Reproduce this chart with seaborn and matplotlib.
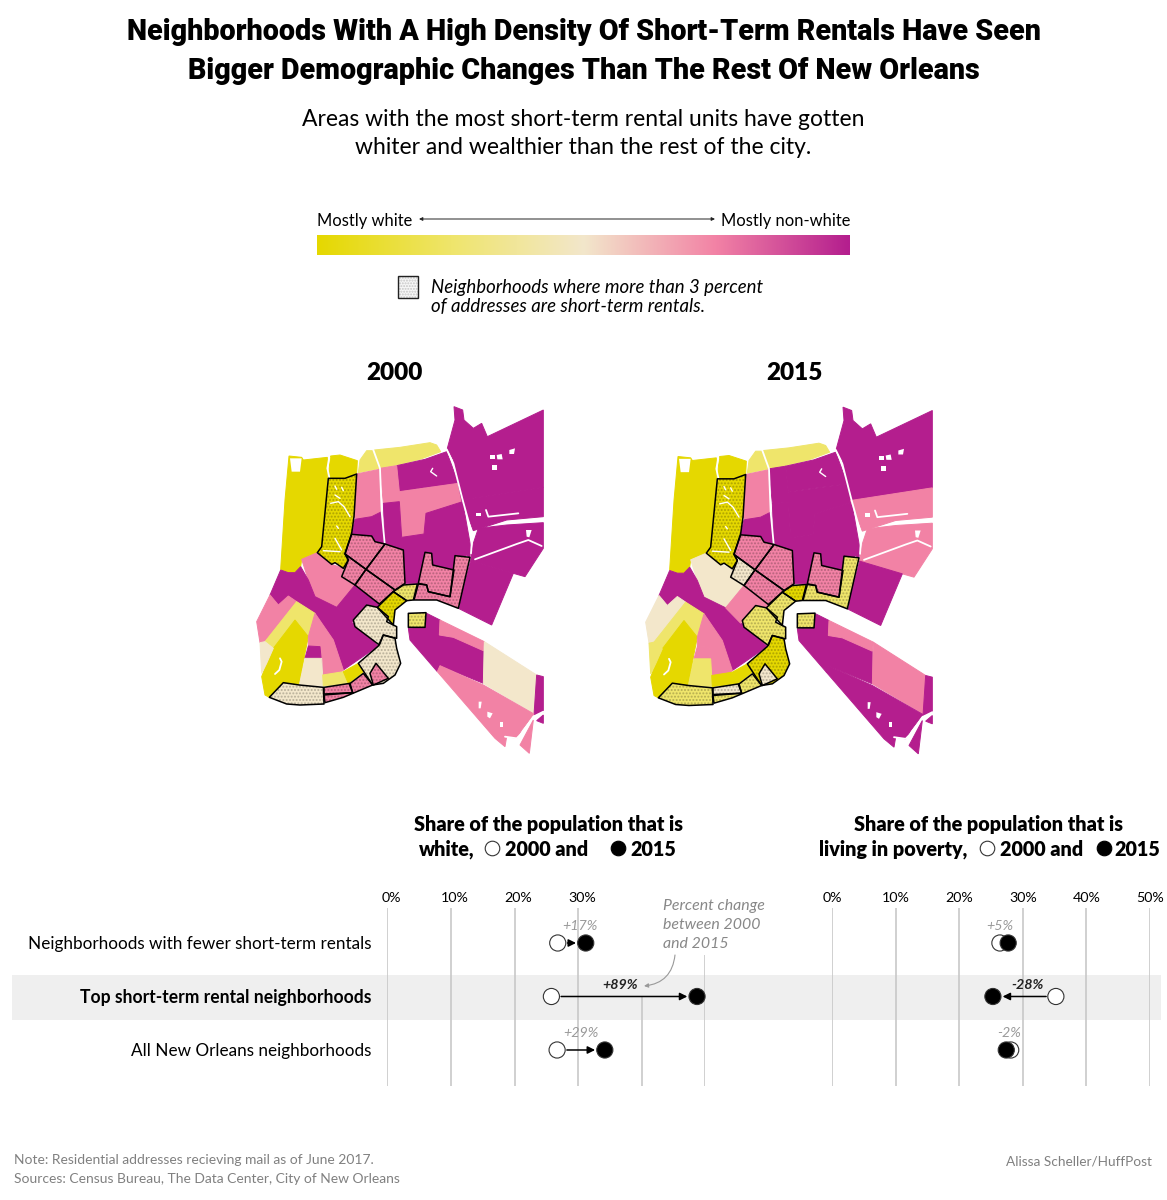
import matplotlib
matplotlib.use('Agg')
import matplotlib.pyplot as plt
from matplotlib.colors import LinearSegmentedColormap
from matplotlib.patches import Polygon, Rectangle
from matplotlib.transforms import ScaledTranslation
import numpy as np
import pandas as pd
import seaborn as sns

# colours of the map classes
Y, L, C, P, M = '#E5D800', '#EFE56B', '#F3E7CB', '#F282A5', '#B41E8E'

# dumbbell values, percent
rows = ['Neighborhoods with fewer short-term rentals',
        'Top short-term rental neighborhoods',
        'All New Orleans neighborhoods']
white_2000 = [26.8, 25.8, 26.7]
white_2015 = [31.2, 48.7, 34.2]
white_change = ['+17%', '+89%', '+29%']
poverty_2000 = [26.4, 35.2, 28.1]
poverty_2015 = [27.7, 25.3, 27.4]
poverty_change = ['+5%', '-28%', '-2%']

# neighbourhood outlines
lakeview_w = [(147,168),(185,172),(190,180),(262,172),(262,235),(245,440),(230,458),(185,478),(182,500),(165,518),(145,518),(122,508),(135,300)]
lakeview_n = [(272,168),(300,165),(352,182),(350,222),(315,235),(265,235),(268,200)]
lakewood = [(265,235),(315,235),(350,222),(342,350),(335,400),(315,460),(325,480),(310,505),(285,488),(275,493),(232,458),(245,440)]
shore_a = [(355,218),(360,180),(380,152),(398,152),(420,205)]
shore_b = [(403,150),(480,142),(570,128),(590,135),(602,155),(540,178),(470,195),(420,205)]
fairgrounds = [(350,222),(418,208),(425,335),(395,350),(350,358),(342,350)]
gent_n = [(470,197),(555,178),(620,155),(655,250),(540,265),(478,275)]
gent_l = [(420,205),(470,197),(478,275),(655,250),(668,305),(558,340),(552,402),(485,412),(478,305),(430,310)]
gent_s = [(430,310),(478,305),(485,412),(552,402),(558,340),(668,305),(692,440),(690,470),(645,467),(642,510),(578,495),(575,460),(555,457),(535,550),(495,550),(490,450),(435,432)]
seventh = [(345,358),(395,350),(425,335),(435,432),(405,425),(398,410),(335,402)]
east_n = [(642,20),(668,30),(672,60),(700,85),(725,70),(742,110),(910,30),(910,262),(665,300),(640,180),(622,145),(645,60)]
east_m = [(665,300),(910,262),(910,350),(800,360),(700,392),(680,340)]
east_s = [(715,385),(800,375),(910,368),(910,445),(855,530),(820,520),(692,482),(700,430)]
lower9 = [(692,482),(820,520),(755,675),(655,625)]
block_a = [(335,403),(395,408),(405,425),(435,432),(378,508),(315,462)]
block_b = [(435,432),(490,450),(495,550),(465,570),(378,508)]
block_c = [(315,462),(378,508),(345,555),(305,530),(325,480)]
block_d = [(378,508),(465,570),(418,612),(345,555)]
marigny = [(555,457),(575,460),(578,495),(642,510),(630,590),(565,575),(560,555),(535,550)]
bywater = [(645,467),(690,472),(655,625),(590,600),(522,600),(535,552),(560,555),(565,575),(630,590)]
quarter = [(460,575),(490,555),(532,552),(520,600),(500,602)]
cbd = [(460,575),(500,602),(465,630),(460,675),(412,622)]
alg_point = [(505,640),(558,638),(555,682),(505,682)]
algiers = [(560,640),(600,660),(598,705),(640,712),(730,752),(730,850),(600,797),(592,815),(510,720),(505,685),(555,682)]
alg_strip = [(600,660),(733,725),(730,752),(640,712),(598,705)]
alg_cream = [(733,725),(890,825),(882,940),(730,850)]
alg_edge = [(890,825),(910,830),(910,935),(882,945)]
alg_south = [(600,797),(730,855),(882,942),(845,990),(830,1015),(800,1010),(795,1040),(765,1015),(592,815)]
alg_tail = [(880,960),(868,1060),(840,1035)]
alg_tip = [(910,945),(910,970),(890,962)]
broadmoor = [(185,478),(232,458),(275,493),(310,505),(305,530),(345,555),(290,622),(225,590),(205,540)]
central = [(122,510),(145,518),(165,518),(182,500),(205,540),(225,590),(290,622),(335,668),(340,670),(415,738),(310,810),(280,720),(225,640),(170,605),(145,588),(115,615),(90,585)]
central_e = [(345,555),(418,612),(412,622),(380,612),(335,668),(290,622)]
west_a = [(50,665),(90,585),(115,615),(145,588),(170,605),(75,725),(60,728)]
west_b = [(170,605),(225,640),(205,710),(165,660),(100,745),(75,725)]
carrollton = [(165,660),(205,710),(195,760),(178,855),(130,848),(88,892),(75,885),(65,830),(80,790),(100,745)]
west_c = [(60,728),(75,725),(100,745),(80,790),(65,820)]
freret = [(225,640),(280,720),(310,810),(300,820),(248,825),(240,740),(205,738),(205,710)]
freret_s = [(205,738),(240,740),(248,825),(240,775),(195,775)]
fontain = [(195,775),(245,775),(250,858),(178,855)]
strip_a = [(248,825),(310,815),(325,850),(250,858)]
strip_b = [(310,815),(355,790),(370,815),(325,850)]
river_w = [(130,848),(178,855),(250,862),(252,912),(180,915),(140,912),(88,892)]
river_a = [(252,862),(330,850),(338,878),(252,882)]
river_b = [(252,885),(338,878),(328,852),(370,820),(398,855),(310,892),(255,908)]
garden = [(380,615),(412,622),(445,650),(440,665),(470,680),(470,715),(430,705),(418,735),(345,680),(340,660)]
channel = [(430,705),(465,715),(470,745),(482,790),(465,825),(430,850),(398,855),(355,790),(415,738)]
touro = [(390,820),(408,790),(445,835),(400,855)]

regions = [lakeview_w, lakeview_n, shore_a, shore_b, fairgrounds, gent_n, gent_l, gent_s, seventh,
           east_n, east_m, east_s, lower9, algiers, alg_strip, alg_cream, alg_edge, alg_south,
           alg_tail, alg_tip, broadmoor, central, central_e, west_a, west_b, carrollton, west_c,
           freret, freret_s, fontain, strip_a, strip_b]
colors_2000 = [Y, Y, L, L, P, M, P, M, M,
               M, M, M, M, M, P, C, M, P,
               P, M, P, M, M, P, L, Y, C,
               P, M, C, L, Y]
colors_2015 = [Y, Y, L, L, P, M, M, M, M,
               M, P, P, M, M, P, P, M, M,
               M, M, C, M, P, C, L, Y, L,
               P, P, L, Y, Y]

# the outlined, stippled neighbourhoods
hot_regions = [lakewood, block_a, block_b, block_c, block_d, marigny, bywater, quarter, cbd,
               alg_point, river_w, river_a, river_b, garden, channel, touro]
hot_2000 = [Y, P, P, P, P, P, P, L, Y, L, C, P, P, C, C, P]
hot_2015 = [Y, P, P, C, P, P, L, Y, L, L, L, C, L, L, Y, C]

# canals and small water bodies
canals = [[(400,150),(420,205),(425,335),(434,430)],
          [(620,148),(640,190),(668,300),(697,405),(693,460)],
          [(268,172),(262,205),(268,232)],
          [(705,478),(830,432),(865,420),(905,438)],
          [(738,330),(745,350),(835,340)],
          [(795,1010),(830,1015),(845,1000),(880,950),(910,935)],
          [(120,775),(125,785),(118,810),(105,822)],
          [(680,470),(655,620)]]
lakewood_paths = [[(272,310),(295,305),(312,320),(330,350)],
                  [(285,415),(305,450)],
                  [(285,258),(290,268)],
                  [(305,262),(310,272)],
                  [(285,285),(300,295)],
                  [(250,452),(300,455)],
                  [(290,378),(295,385)],
                  [(578,205),(572,215),(590,228)]]
ponds = [[(750,165),(765,165),(765,178),(750,178)],
         [(770,165),(785,162),(788,178),(772,178)],
         [(755,195),(772,195),(772,210),(755,210)],
         [(808,150),(825,145),(822,162),(808,162)],
         [(708,338),(722,338),(722,348),(708,348)],
         [(150,175),(185,175),(180,215),(155,215)],
         [(858,390),(875,390),(868,412),(860,410)],
         [(716,905),(725,905),(722,925),(716,925)],
         [(742,935),(758,940),(750,955),(742,950)],
         [(780,965),(790,965),(790,980),(780,980)]]


def draw_map(ax, colors, hot_colors):
    for pts, col in zip(regions, colors):
        ax.add_patch(Polygon(pts, closed=True, facecolor=col, edgecolor=col, lw=0.7))
    for pts in ponds:
        ax.add_patch(Polygon(pts, closed=True, facecolor='white', edgecolor='none', zorder=2))
    for line in canals:
        xs, ys = zip(*line)
        ax.plot(xs, ys, color='white', lw=1.3, solid_capstyle='round', zorder=2)
    for pts, col in zip(hot_regions, hot_colors):
        ax.add_patch(Polygon(pts, closed=True, facecolor=col, edgecolor='#00000038', lw=0, hatch='.....', zorder=3))
    for line in lakewood_paths:
        xs, ys = zip(*line)
        ax.plot(xs, ys, color='white', lw=1.0, zorder=4)
    for pts in hot_regions:
        ax.add_patch(Polygon(pts, closed=True, facecolor='none', edgecolor='black', lw=1.1, joinstyle='round', zorder=5))
    ax.set_xlim(0, 960)
    ax.set_ylim(1080, 0)
    ax.axis('off')


def draw_dots(ax, first, second, changes, label_x, grid_top):
    df = pd.DataFrame({'share': first + second,
                       'row': [0, 1, 2] * 2,
                       'year': ['2000'] * 3 + ['2015'] * 3})
    for v, top in zip(range(0, 60, 10), grid_top):
        ax.vlines(v, top, 2.673, color='#c4c4c4', lw=1.1, zorder=1)
    sns.scatterplot(data=df, x='share', y='row', hue='year', palette={'2000': 'white', '2015': 'black'},
                    s=135, edgecolor='#333333', linewidth=0.8, legend=False, ax=ax, zorder=3, clip_on=False)
    for i in range(3):
        if abs(first[i] - second[i]) > 2:
            ax.annotate('', xy=(second[i], i), xytext=(first[i], i),
                        arrowprops=dict(arrowstyle='-|>', color='black', lw=1.1, shrinkA=7, shrinkB=7, mutation_scale=11),
                        zorder=2)
        ax.text(label_x[i], i - (0.31 if i != 1 else 0.22), changes[i], ha='center', va='center', fontsize=10.3, style='italic',
                fontweight='bold' if i == 1 else 'normal', color='#222222' if i == 1 else '#999999')
    ax.set_xlim(0, 50)
    ax.set_ylim(2.673, -0.654)
    ax.set_xlabel('')
    ax.set_ylabel('')
    ax.xaxis.tick_top()
    ax.set_xticks(range(0, 60, 10))
    ax.tick_params(axis='both', length=0, labelsize=10.3)
    ax.tick_params(axis='x', pad=3, colors='black')
    for s in ax.spines.values():
        s.set_visible(False)
    ax.patch.set_visible(False)


sns.set_theme(style='white')
plt.rcParams['font.family'] = ['Lato', 'DejaVu Sans']
plt.rcParams['text.color'] = 'black'

W, H = 1167, 1200
fig = plt.figure(figsize=(W / 100, H / 100), dpi=100, facecolor='white')


def px_axes(x0, y0, w, h, **kw):
    return fig.add_axes([x0 / W, 1 - (y0 + h) / H, w / W, h / H], **kw)


page = px_axes(0, 0, W, H)
page.set_xlim(0, W)
page.set_ylim(H, 0)
page.axis('off')

# headline
for y, s in [(32, 'Neighborhoods With A High Density Of Short-Term Rentals Have Seen'),
             (71, 'Bigger Demographic Changes Than The Rest Of New Orleans')]:
    page.text(583.5, y, s, ha='center', va='center', fontsize=20.7, fontweight='black',
              family=['Roboto', 'Liberation Sans'], color='black')
page.text(583.5, 119.5, 'Areas with the most short-term rental units have gotten', ha='center', va='center', fontsize=16.45)
page.text(583.5, 147.5, 'whiter and wealthier than the rest of the city.', ha='center', va='center', fontsize=16.45)

# colour key
page.text(317, 221, 'Mostly white', ha='left', va='center', fontsize=11.9)
page.text(850, 221, 'Mostly non-white', ha='right', va='center', fontsize=11.9)
page.annotate('', xy=(419, 219), xytext=(715, 219),
              arrowprops=dict(arrowstyle='<|-|>', color='#222222', lw=0.7, mutation_scale=5, shrinkA=0, shrinkB=0))
cmap = LinearSegmentedColormap.from_list('white_share', [Y, L, C, P, M])
key = px_axes(317, 235, 533, 20)
key.imshow(np.linspace(0, 1, 256).reshape(1, -1), cmap=cmap, aspect='auto')
key.axis('off')

page.add_patch(Rectangle((398, 276), 20, 22, facecolor='#f7f7f7', edgecolor='#00000030', lw=0, hatch='......'))
page.add_patch(Rectangle((398, 276), 20, 22, facecolor='none', edgecolor='#222222', lw=1))
page.text(431, 288, 'Neighborhoods where more than 3 percent', ha='left', va='center', fontsize=13.4, style='italic')
page.text(431, 306, 'of addresses are short-term rentals.', ha='left', va='center', fontsize=13.4, style='italic')

# maps
page.text(394.5, 373, '2000', ha='center', va='center', fontsize=17.5, fontweight='heavy')
page.text(794, 373, '2015', ha='center', va='center', fontsize=17.5, fontweight='heavy')
draw_map(px_axes(240, 400, 320, 360), colors_2000, hot_2000)
draw_map(px_axes(629, 400.5, 320, 360), colors_2015, hot_2015)

# dumbbell headers
page.text(548, 825, 'Share of the population that is', ha='center', va='center', fontsize=14.2, fontweight='heavy')
page.text(989, 825, 'Share of the population that is', ha='center', va='center', fontsize=14.2, fontweight='heavy')
for x, y_txt, ha in [(474, 'white,', 'right'), (505, '2000 and', 'left'), (630, '2015', 'left'),
                     (967, 'living in poverty,', 'right'), (1000, '2000 and', 'left'), (1114, '2015', 'left')]:
    page.text(x, 849, y_txt, ha=ha, va='center', fontsize=14.2, fontweight='heavy')
page.scatter([492, 987], [848, 848], s=110, facecolor='white', edgecolor='#333333', lw=0.8)
page.scatter([618, 1104], [848, 848], s=110, facecolor='black', edgecolor='black', lw=0.8)

# grey band behind the top row
page.add_patch(Rectangle((12, 975), 1149, 45, facecolor='#efefef', edgecolor='none', zorder=0))

left = px_axes(387.3, 908, 318, 178, zorder=2)
draw_dots(left, white_2000, white_2015, white_change, [30.3, 36.6, 30.5], [-0.654, -0.654, -0.654, -0.654, 1.0, 0.22])
left.set_xticklabels(['0%', '10%', '20%', '30%', '', ''])
left.set_yticks(range(3))
left.set_yticklabels(rows)
left.tick_params(axis='y', pad=11.5, labelcolor='black', labelsize=12.35)
left.get_yticklabels()[1].set_fontweight('bold')
left.get_yticklabels()[1].set_fontsize(12.65)
# the printed labels of this panel sit a little right of their lines
shift = ScaledTranslation(4 / 100, 0, fig.dpi_scale_trans)
for lab in left.get_xticklabels():
    lab.set_transform(lab.get_transform() + shift)

right = px_axes(832, 908, 318, 178, zorder=2)
draw_dots(right, poverty_2000, poverty_2015, poverty_change, [26.4, 30.7, 27.8], [-0.654] * 6)
right.set_xticklabels(['0%', '10%', '20%', '30%', '40%', '50%'])
right.set_yticks([])

# note on the percent labels
page.text(663, 925, 'Percent change\nbetween 2000\nand 2015', ha='left', va='center', fontsize=11.4, style='italic',
          color='#888888', linespacing=1.42)
page.annotate('', xy=(644, 986), xytext=(675, 955),
              arrowprops=dict(arrowstyle='-|>', color='#999999', lw=0.8, mutation_scale=6,
                              connectionstyle='arc3,rad=-0.4', shrinkA=0, shrinkB=0))

# footer
page.text(14, 1160, 'Note: Residential addresses recieving mail as of June 2017.', ha='left', va='center', fontsize=10, color='#808080')
page.text(14, 1179, 'Sources: Census Bureau, The Data Center, City of New Orleans', ha='left', va='center', fontsize=10, color='#808080')
page.text(1152, 1161, 'Alissa Scheller/HuffPost', ha='right', va='center', fontsize=9.8, color='#808080')

fig.savefig('out.png', dpi=100)
